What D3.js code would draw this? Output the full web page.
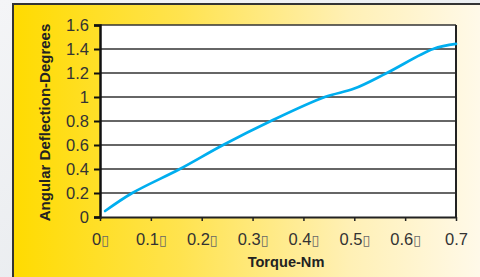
<!DOCTYPE html>
<html lang="en">
<head>
<meta charset="UTF-8">
<title>Angular Deflection vs Torque</title>
<script src="https://d3js.org/d3.v7.min.js"></script>
<style>
    body { margin: 0; background: #eceef1; }
    svg { display: block; }
    .tick-label { font-family: "Liberation Sans", Arial, sans-serif; font-size: 16.5px; fill: #333; }
    .axis-title { font-family: "Liberation Sans", Arial, sans-serif; font-weight: bold; fill: #222; }
</style>
</head>
<body>
<div id="chart"></div>
<script>
    // values
    const torque     = [0.01, 0.0635, 0.157, 0.242, 0.336, 0.442, 0.5, 0.564, 0.655, 0.7];
    const deflection = [0.05, 0.2, 0.4, 0.6, 0.8, 1.0, 1.07, 1.2, 1.4, 1.442];
    const xTicks = [0, 0.1, 0.2, 0.3, 0.4, 0.5, 0.6, 0.7];
    const xTickLabels = ["0\u25AF", "0.1\u25AF", "0.2\u25AF", "0.3\u25AF", "0.4\u25AF", "0.5\u25AF", "0.6\u25AF", "0.7"];
    const yTicks = [0, 0.2, 0.4, 0.6, 0.8, 1, 1.2, 1.4, 1.6];
    const yTickLabels = ["0", "0.2", "0.4", "0.6", "0.8", "1", "1.2", "1.4", "1.6"];

    const W = 480, H = 277;
    const plot = {left: 100, right: 456, top: 25, bottom: 217};

    const svg = d3.select('#chart').append('svg')
        .attr('width', W)
        .attr('height', H);

    const defs = svg.append('defs');
    const bg = defs.append('linearGradient').attr('id', 'outer').attr('x1', 0).attr('y1', 0).attr('x2', 1).attr('y2', 1);
    bg.append('stop').attr('offset', '0%').attr('stop-color', '#f4f5f7');
    bg.append('stop').attr('offset', '100%').attr('stop-color', '#e2e6ea');

    const panelGrad = defs.append('linearGradient').attr('id', 'panel').attr('x1', 0).attr('y1', 0).attr('x2', 1).attr('y2', 0);
    panelGrad.append('stop').attr('offset', '0%').attr('stop-color', '#ffdb00');
    panelGrad.append('stop').attr('offset', '35%').attr('stop-color', '#ffe34f');
    panelGrad.append('stop').attr('offset', '70%').attr('stop-color', '#fff0b5');
    panelGrad.append('stop').attr('offset', '100%').attr('stop-color', '#fffaee');

    svg.append('rect').attr('width', W).attr('height', H).attr('fill', 'url(#outer)');

    // yellow panel, runs past the right and bottom edges
    svg.append('rect')
        .attr('x', 13).attr('y', 4)
        .attr('width', W).attr('height', H)
        .attr('fill', 'url(#panel)')
        .attr('stroke', '#333')
        .attr('stroke-width', 2);

    const x = d3.scaleLinear().domain([0, 0.7]).range([plot.left, plot.right]);
    const y = d3.scaleLinear().domain([0, 1.6]).range([plot.bottom, plot.top]);

    // plot area
    svg.append('rect')
        .attr('x', plot.left).attr('y', plot.top)
        .attr('width', plot.right - plot.left)
        .attr('height', plot.bottom - plot.top)
        .attr('fill', '#fff');

    // gridlines
    svg.append('g')
        .selectAll('line')
        .data(yTicks.slice(1))
        .enter().append('line')
        .attr('x1', plot.left).attr('x2', plot.right)
        .attr('y1', d => y(d)).attr('y2', d => y(d))
        .attr('stroke', '#333')
        .attr('stroke-width', 1.5);

    // right border
    svg.append('line')
        .attr('x1', plot.right).attr('x2', plot.right)
        .attr('y1', plot.top).attr('y2', plot.bottom)
        .attr('stroke', '#222').attr('stroke-width', 2);

    // y axis
    const yAxis = svg.append('g')
        .attr('transform', `translate(${plot.left},0)`)
        .call(d3.axisLeft(y).tickValues(yTicks).tickSize(6).tickFormat((d, i) => yTickLabels[i]).tickPadding(5));
    yAxis.attr('font-size', null).attr('font-family', null);
    yAxis.select('.domain').attr('stroke', '#111').attr('stroke-width', 2.5);
    yAxis.selectAll('.tick line').attr('stroke', '#111').attr('stroke-width', 2);
    yAxis.selectAll('.tick text').attr('class', 'tick-label').attr('dy', '0.36em').attr('fill', null);

    // x axis
    const xAxis = svg.append('g')
        .attr('transform', `translate(0,${plot.bottom})`)
        .call(d3.axisBottom(x).tickValues(xTicks).tickSize(4).tickSizeOuter(0).tickFormat(''));
    xAxis.attr('font-size', null).attr('font-family', null);
    xAxis.select('.domain').attr('stroke', '#222').attr('stroke-width', 2);
    xAxis.selectAll('.tick line').attr('stroke', '#222').attr('stroke-width', 1.5);
    xAxis.selectAll('.tick').each(function(d, i) {
        const label = xTickLabels[i];
        const t = d3.select(this).append('text')
            .attr('class', 'tick-label')
            .attr('y', 28)
            .attr('text-anchor', 'middle');
        if (label.endsWith('\u25AF')) {
            t.append('tspan').text(label.slice(0, -1));
            t.append('tspan').text('\u25AF')
                .style('font-family', '"DejaVu Sans", sans-serif')
                .style('font-size', '14px')
                .style('fill', '#666')
                .attr('dx', 0);
        } else {
            t.text(label);
        }
    });

    // series
    const points = torque.map((t, i) => [t, deflection[i]]);
    svg.append('path')
        .datum(points)
        .attr('fill', 'none')
        .attr('stroke', '#00aeef')
        .attr('stroke-width', 2.7)
        .attr('stroke-linecap', 'round')
        .attr('d', d3.line()
            .x(d => x(d[0]))
            .y(d => y(d[1]))
            .curve(d3.curveCatmullRom.alpha(0.5)));

    // axis titles
    svg.append('text')
        .attr('class', 'axis-title')
        .attr('x', 286)
        .attr('y', 267)
        .attr('text-anchor', 'middle')
        .style('font-size', '14.6px')
        .text('Torque-Nm');

    svg.append('text')
        .attr('class', 'axis-title')
        .attr('transform', 'translate(50,122.5) rotate(-90)')
        .attr('text-anchor', 'middle')
        .style('font-size', '15px')
        .text('Angular Deflection-Degrees');
</script>
</body>
</html>
